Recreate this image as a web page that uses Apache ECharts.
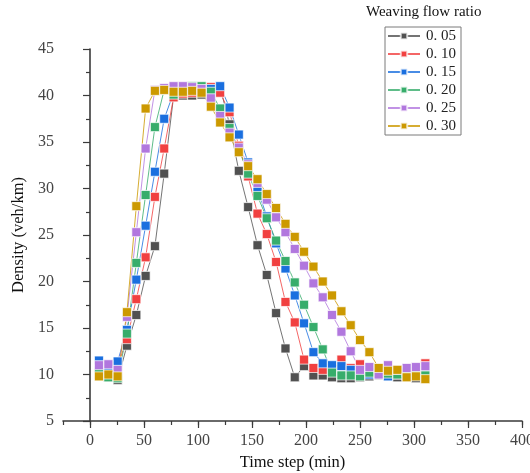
<!DOCTYPE html>
<html>
<head>
<meta charset="utf-8">
<script src="https://cdn.jsdelivr.net/npm/echarts@6/dist/echarts.min.js"></script>
<style>
html,body{margin:0;padding:0;background:#fff;}
#chart{width:530px;height:473px;}
</style>
</head>
<body>
<div id="chart"></div>
<script>
// ---- data ----
const timeSteps = [8.3, 17.0, 25.6, 34.2, 42.9, 51.5, 60.1, 68.7, 77.4, 86.0, 94.6, 103.3, 111.9, 120.5, 129.2, 137.8, 146.4, 155.1, 163.7, 172.3, 181.0, 189.6, 198.2, 206.9, 215.5, 224.1, 232.8, 241.4, 250.0, 258.7, 267.3, 275.9, 284.6, 293.2, 301.8, 310.5];

const ratio005 = [10.0, 9.7, 9.4, 13.1, 16.4, 20.6, 23.8, 31.6, 39.9, 40.0, 40.0, 40.1, 40.9, 40.9, 36.9, 31.9, 28.0, 23.9, 20.7, 16.6, 12.8, 9.7, 10.9, 9.9, 9.9, 9.7, 9.6, 9.6, 9.7, 9.8, 9.9, 9.9, 9.7, 9.9, 9.6, 9.7];
const ratio010 = [10.2, 9.8, 10.9, 13.8, 18.1, 22.6, 29.1, 34.3, 39.8, 40.2, 40.3, 40.5, 40.9, 40.3, 38.2, 34.6, 31.3, 27.3, 25.1, 22.1, 17.8, 15.6, 11.6, 10.7, 10.5, 10.4, 11.6, 10.7, 11.1, 10.2, 10.0, 10.2, 10.0, 10.2, 10.0, 11.2];
const ratio015 = [11.5, 10.6, 11.4, 14.8, 20.2, 26.0, 31.8, 37.5, 40.3, 40.5, 40.7, 40.8, 40.7, 41.0, 38.7, 35.8, 32.8, 29.9, 27.0, 24.1, 21.4, 18.5, 15.5, 12.4, 11.2, 11.0, 10.9, 10.5, 10.2, 10.0, 10.0, 9.8, 10.1, 10.0, 10.3, 10.5];
const ratio020 = [10.4, 9.7, 9.6, 14.4, 22.0, 29.3, 36.6, 40.6, 40.1, 40.5, 41.0, 41.0, 40.4, 38.6, 36.5, 34.2, 31.6, 29.2, 26.8, 24.4, 22.2, 19.9, 17.5, 15.1, 12.7, 10.2, 9.9, 9.9, 9.8, 10.2, 10.1, 10.1, 10.0, 10.2, 10.1, 9.9];
const ratio025 = [11.0, 11.1, 10.5, 16.2, 25.3, 34.3, 40.6, 40.8, 41.0, 41.0, 40.9, 40.7, 39.7, 37.8, 36.0, 34.4, 32.6, 30.6, 28.8, 26.9, 25.3, 23.5, 21.7, 19.8, 18.3, 16.4, 14.6, 12.5, 10.5, 10.8, 10.0, 11.0, 10.5, 10.7, 10.8, 10.9];
const ratio030 = [9.8, 10.0, 9.8, 16.7, 28.1, 38.6, 40.5, 40.6, 40.4, 40.4, 40.5, 40.3, 38.8, 37.1, 35.5, 33.9, 32.4, 31.0, 29.4, 27.9, 26.2, 24.8, 23.2, 21.6, 20.0, 18.5, 16.8, 15.3, 13.7, 12.4, 10.7, 10.4, 10.5, 9.7, 9.8, 9.5];

const seriesNames = ['0. 05', '0. 10', '0. 15', '0. 20', '0. 25', '0. 30'];
const seriesValues = [ratio005, ratio010, ratio015, ratio020, ratio025, ratio030];
const xMajorTicks = [0, 50, 100, 150, 200, 250, 300, 350, 400];

// ---- styles ----
const colors = ['#515151', '#F14040', '#1A6FDF', '#37AD6B', '#B177DE', '#CC9900'];
const FONT = "'Liberation Serif', 'DejaVu Serif', serif";
const axisColor = '#3a3a3a';

const series = seriesNames.map((name, i) => ({
  name: name,
  type: 'line',
  xAxisIndex: 0,
  yAxisIndex: 0,
  data: timeSteps.map((t, j) => [t, seriesValues[i][j]]),
  symbol: 'rect',
  symbolSize: 9,
  showSymbol: true,
  color: colors[i],
  lineStyle: { width: 1, color: colors[i], opacity: 0.8 },
  itemStyle: { color: colors[i], borderColor: 'rgba(255,255,255,0.7)', borderWidth: 1 },
  emphasis: { disabled: true },
  animation: false
}));

const chart = echarts.init(document.getElementById('chart'), null, { renderer: 'canvas' });
chart.setOption({
  backgroundColor: '#ffffff',
  animation: false,
  grid: { left: 63, right: 8, top: 49, bottom: 52, containLabel: false, outerBoundsMode: 'none' },
  title: {
    text: 'Weaving flow ratio',
    left: 366, top: 5,
    padding: 0,
    textStyle: { fontFamily: FONT, fontSize: 15, fontWeight: 'normal', color: '#111' }
  },
  legend: {
    orient: 'vertical',
    left: 385, top: 27,
    padding: [0, 5, 0, 2],
    itemGap: 0,
    itemWidth: 32,
    itemHeight: 8,
    borderColor: '#7a7a7a',
    borderWidth: 1,
    textStyle: { fontFamily: FONT, fontSize: 15, color: '#222', lineHeight: 18, padding: [0, 0, 0, 1] },
    data: seriesNames
  },
  xAxis: [{
    type: 'value',
    min: -25, max: 400, interval: 25,
    name: 'Time step (min)',
    nameLocation: 'middle',
    nameGap: 31,
    nameTextStyle: { fontFamily: FONT, fontSize: 16.5, color: '#111' },
    axisLine: { show: true, lineStyle: { color: axisColor, width: 1.6 } },
    axisTick: { show: true, length: 4, inside: false, lineStyle: { color: axisColor, width: 1.2 } },
    axisLabel: {
      fontFamily: FONT, fontSize: 16, color: '#444', margin: 12,
      formatter: v => (v % 50 === 0 ? String(v) : '')
    },
    splitLine: { show: false }
  }, {
    type: 'value',
    min: -25, max: 400,
    position: 'bottom',
    axisLine: { show: false },
    axisTick: { show: true, length: 7, customValues: xMajorTicks, lineStyle: { color: axisColor, width: 1.2 } },
    axisLabel: { show: false },
    splitLine: { show: false }
  }],
  yAxis: {
    type: 'value',
    min: 5, max: 45, interval: 5,
    name: 'Density (veh/km)',
    nameLocation: 'middle',
    nameGap: 35,
    nameRotate: 90,
    nameTextStyle: { fontFamily: FONT, fontSize: 16.5, color: '#111' },
    axisLine: { show: true, lineStyle: { color: axisColor, width: 1.6 } },
    axisTick: { show: true, length: 7, lineStyle: { color: axisColor, width: 1.2 } },
    minorTick: { show: true, splitNumber: 2, length: 4, lineStyle: { color: axisColor, width: 1.2 } },
    axisLabel: { fontFamily: FONT, fontSize: 16, color: '#444', margin: 9 },
    splitLine: { show: false }
  },
  series: series
});
</script>
</body>
</html>
